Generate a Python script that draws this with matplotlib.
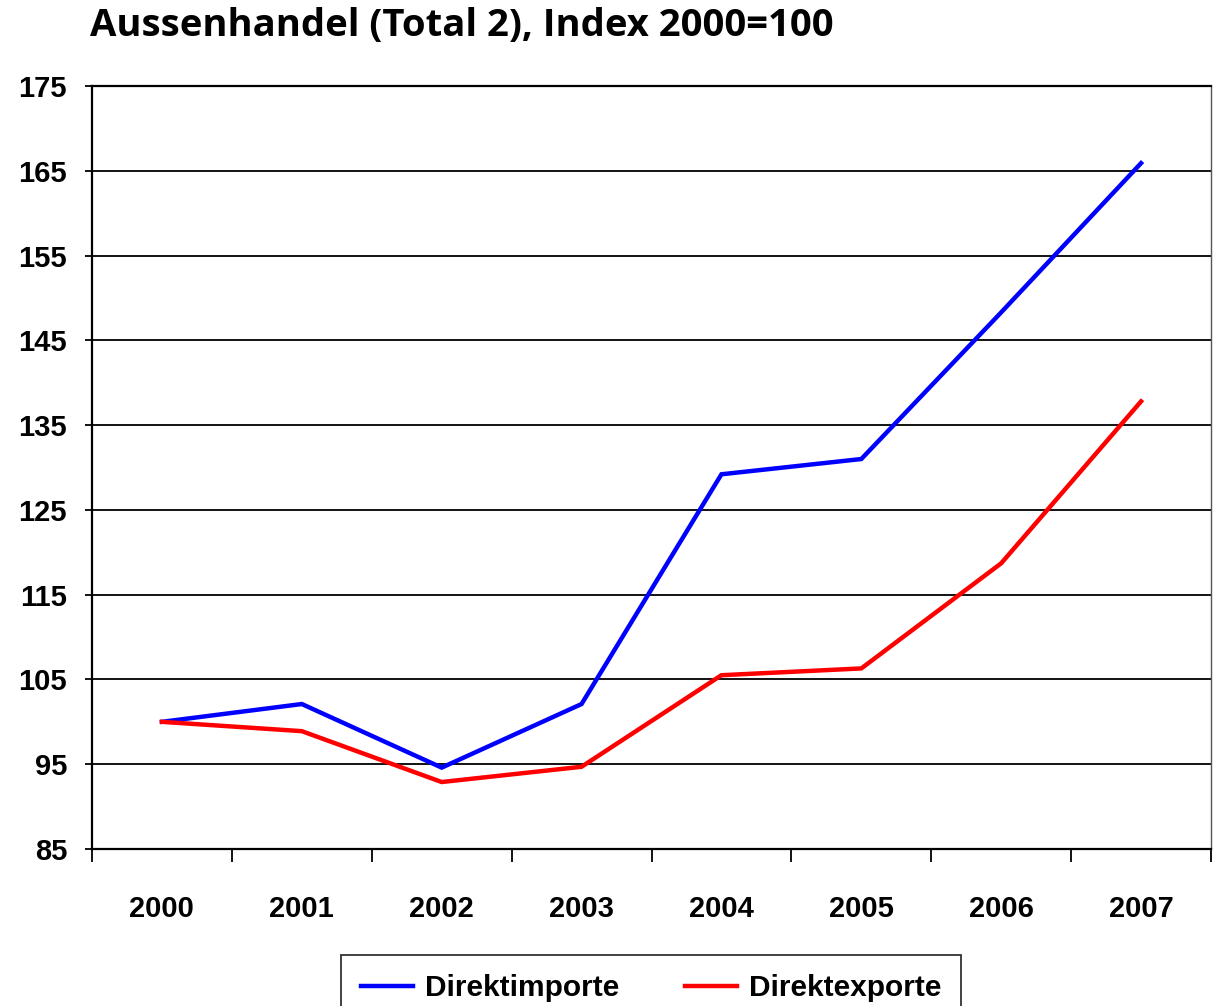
import matplotlib
matplotlib.use("Agg")
import matplotlib.pyplot as plt
import numpy as np

# data
years = ['2000', '2001', '2002', '2003', '2004', '2005', '2006', '2007']
direktimporte = [100.0, 102.1, 94.6, 102.1, 129.2, 131.0, 148.3, 165.9]
direktexporte = [100.0, 98.9, 92.9, 94.7, 105.5, 106.3, 118.7, 137.8]
yticks = [85, 95, 105, 115, 125, 135, 145, 155, 165, 175]

lab_font = ['Liberation Sans', 'DejaVu Sans']

fig = plt.figure(figsize=(12.17, 10.06), dpi=100)
ax = fig.add_axes([92/1217, 1 - 849/1006, (1211 - 92)/1217, (849 - 86)/1006])

x = np.arange(len(years))
ax.plot(x, direktimporte, color='#0000ff', lw=3.2, label='Direktimporte',
        solid_joinstyle='miter', zorder=3)
ax.plot(x, direktexporte, color='#ff0000', lw=3.2, label='Direktexporte',
        solid_joinstyle='miter', zorder=3)

ax.set_xlim(-0.5, len(years) - 0.5)
ax.set_ylim(85, 175)
ax.set_yticks(yticks)
ax.yaxis.grid(True, color='black', lw=1.3)
ax.set_axisbelow(True)

# category boundaries get the tick marks, centres get the labels
ax.set_xticks(np.arange(-0.5, len(years)))
ax.set_xticklabels([])
ax.set_xticks(x, minor=True)
ax.set_xticklabels(years, minor=True)
ax.tick_params(axis='x', which='major', length=9.5, width=1.3, color='black')
ax.tick_params(axis='x', which='minor', length=0, pad=33)
ax.tick_params(axis='y', length=5, width=1.3, pad=13)

for lab in ax.get_xticklabels(minor=True) + ax.get_yticklabels():
    lab.set_fontfamily(lab_font)
    lab.set_fontweight('bold')
    lab.set_fontsize(21)

for s in ['left', 'bottom', 'top']:
    ax.spines[s].set_color('black')
    ax.spines[s].set_linewidth(1.6)
ax.spines['right'].set_color('#555555')
ax.spines['right'].set_linewidth(1.0)

fig.text(90/1217, 1 - 26/1006, 'Aussenhandel (Total 2), Index 2000=100',
         fontfamily='Open Sans', fontweight='bold', fontsize=27.5,
         ha='left', va='center')

leg = fig.legend(loc='upper center', bbox_to_anchor=(651/1217, 1 - 955/1006),
                 ncol=2, frameon=True, fancybox=False, handlelength=1.75,
                 handletextpad=0.4, columnspacing=2.2, borderpad=0.65,
                 borderaxespad=0,
                 prop={'family': lab_font, 'weight': 'bold', 'size': 21.5})
leg.get_frame().set_edgecolor('black')
leg.get_frame().set_linewidth(1.3)

fig.savefig('out.png', dpi=100)
